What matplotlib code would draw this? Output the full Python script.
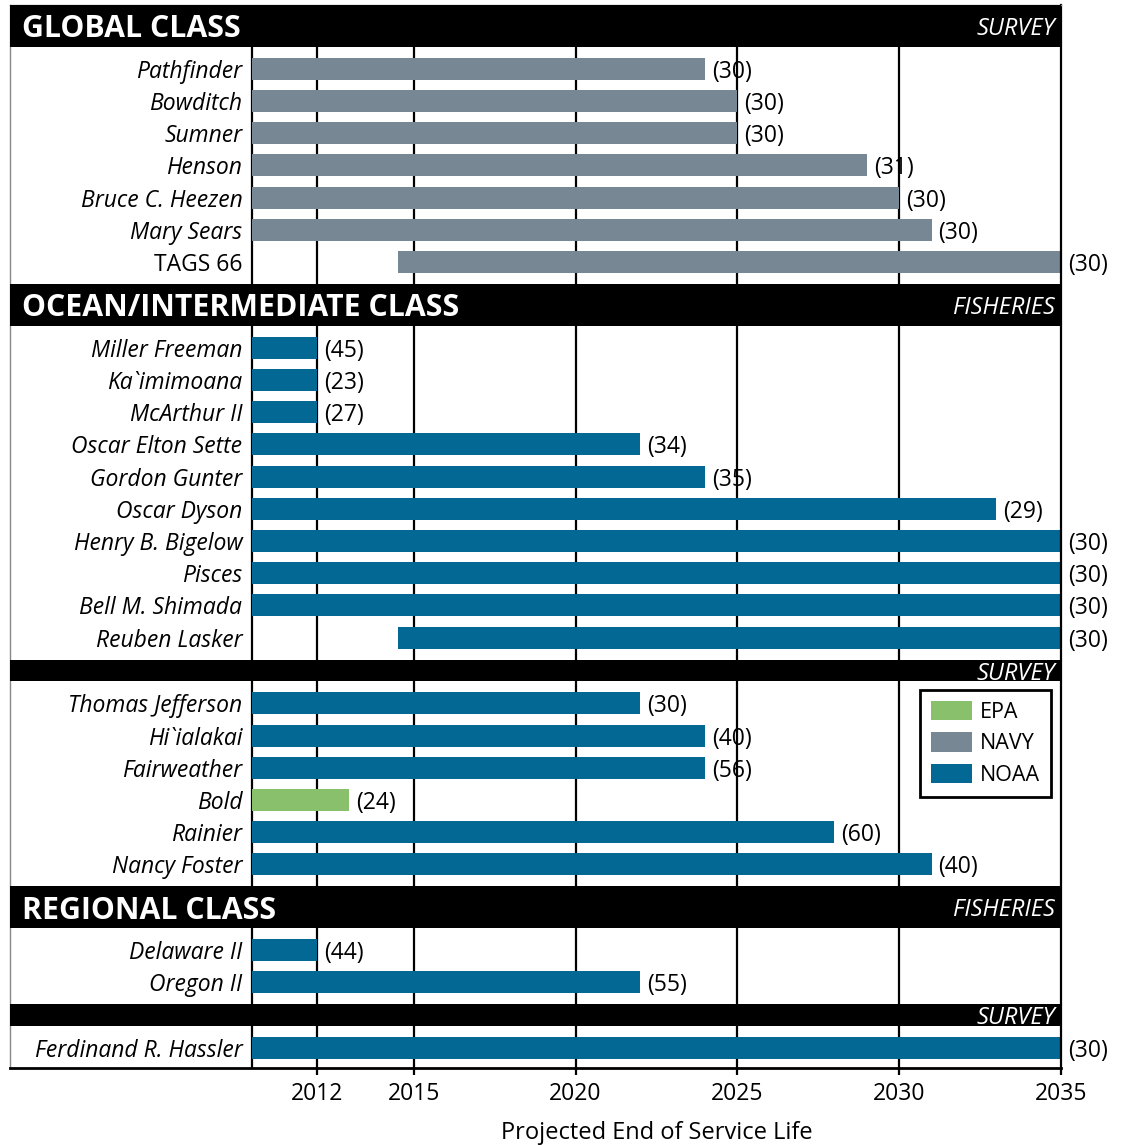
import matplotlib
matplotlib.use('Agg')
import matplotlib.pyplot as plt
from matplotlib.patches import Patch
import matplotlib.transforms as mtransforms

plt.rcParams['font.family'] = ['Open Sans', 'DejaVu Sans']

# ---- data ----
global_names = ['Pathfinder', 'Bowditch', 'Sumner', 'Henson', 'Bruce C. Heezen', 'Mary Sears', 'TAGS 66']
global_start = [2010, 2010, 2010, 2010, 2010, 2010, 2014.5]
global_end = [2024, 2025, 2025, 2029, 2030, 2031, 2035]
global_age = [30, 30, 30, 31, 30, 30, 30]
global_agency = ['NAVY'] * 7

ocean_fish_names = ['Miller Freeman', 'Ka`imimoana', 'McArthur II', 'Oscar Elton Sette', 'Gordon Gunter',
                    'Oscar Dyson', 'Henry B. Bigelow', 'Pisces', 'Bell M. Shimada', 'Reuben Lasker']
ocean_fish_start = [2010, 2010, 2010, 2010, 2010, 2010, 2010, 2010, 2010, 2014.5]
ocean_fish_end = [2012, 2012, 2012, 2022, 2024, 2033, 2035, 2035, 2035, 2035]
ocean_fish_age = [45, 23, 27, 34, 35, 29, 30, 30, 30, 30]
ocean_fish_agency = ['NOAA'] * 10

ocean_surv_names = ['Thomas Jefferson', 'Hi`ialakai', 'Fairweather', 'Bold', 'Rainier', 'Nancy Foster']
ocean_surv_start = [2010] * 6
ocean_surv_end = [2022, 2024, 2024, 2013, 2028, 2031]
ocean_surv_age = [30, 40, 56, 24, 60, 40]
ocean_surv_agency = ['NOAA', 'NOAA', 'NOAA', 'EPA', 'NOAA', 'NOAA']

reg_fish_names = ['Delaware II', 'Oregon II']
reg_fish_start = [2010, 2010]
reg_fish_end = [2012, 2022]
reg_fish_age = [44, 55]
reg_fish_agency = ['NOAA', 'NOAA']

reg_surv_names = ['Ferdinand R. Hassler']
reg_surv_start = [2010]
reg_surv_end = [2035]
reg_surv_age = [30]
reg_surv_agency = ['NOAA']

upright_names = ['TAGS 66']

tick_years = [2012, 2015, 2020, 2025, 2030, 2035]
colors = {'EPA': '#88c06b', 'NAVY': '#778894', 'NOAA': '#036893'}

sections = [
    ('GLOBAL CLASS', 'SURVEY', global_names, global_start, global_end, global_age, global_agency),
    ('OCEAN/INTERMEDIATE CLASS', 'FISHERIES', ocean_fish_names, ocean_fish_start, ocean_fish_end, ocean_fish_age, ocean_fish_agency),
    (None, 'SURVEY', ocean_surv_names, ocean_surv_start, ocean_surv_end, ocean_surv_age, ocean_surv_agency),
    ('REGIONAL CLASS', 'FISHERIES', reg_fish_names, reg_fish_start, reg_fish_end, reg_fish_age, reg_fish_agency),
    (None, 'SURVEY', reg_surv_names, reg_surv_start, reg_surv_end, reg_surv_age, reg_surv_agency),
]

# ---- layout (row units) ----
big_band = 1.30
small_band = 0.68
pad = 0.18
bar_h = 0.68
fs = 16.5

fig = plt.figure(figsize=(11.22, 11.45), dpi=100)
ax = fig.add_axes([10 / 1122, (1145 - 1068) / 1145, 1051 / 1122, 1063 / 1145])

blend = mtransforms.blended_transform_factory(ax.transAxes, ax.transData)

y = 0.0
for title, sub, names, starts, ends, ages, agencies in sections:
    band = big_band if title else small_band
    ax.axhspan(y, y + band, color='black', zorder=3, lw=0)
    if title:
        ax.text(0.0114, y + band / 2, title, transform=blend, color='white', fontsize=21.8,
                fontweight='bold', va='center_baseline', ha='left', zorder=4)
    ax.text(0.9943, y + band / 2, sub, transform=blend, color='white',
            fontsize=17, fontstyle='italic', va='center_baseline', ha='right', zorder=4)
    y += band + pad
    for n, s, e, a, ag in zip(names, starts, ends, ages, agencies):
        yc = y + 0.5
        ax.barh(yc, e - s, left=s, height=bar_h, color=colors[ag], zorder=2, lw=0)
        ax.annotate(f'({a})', (e, yc), xytext=(5, 0), textcoords='offset points',
                    fontsize=fs, va='center_baseline', ha='left', zorder=4, annotation_clip=False)
        ax.annotate(n, (2010, yc), xytext=(-7, 0), textcoords='offset points', fontsize=fs,
                    fontstyle='normal' if n in upright_names else 'italic',
                    va='center_baseline', ha='right', zorder=4)
        y += 1
    y += pad

total = 33.0
ax.set_ylim(total, 0)
ax.set_xlim(2002.52, 2035)

# grid lines and left edge of plotting region
ax.vlines([2010] + tick_years[:-1], 0, total, color='black', lw=1.6, zorder=1)

ax.set_xticks(tick_years)
ax.set_xticklabels([str(t) for t in tick_years], fontsize=fs)
ax.tick_params(axis='x', direction='out', length=5, width=1.6, pad=5)
ax.set_yticks([])
for side in ['left', 'top']:
    ax.spines[side].set_color('#888888')
    ax.spines[side].set_linewidth(1)
ax.spines['right'].set_linewidth(1.6)
ax.spines['bottom'].set_linewidth(2)

ax.text(2022.5, -0.05, 'Projected End of Service Life',
        transform=mtransforms.blended_transform_factory(ax.transData, ax.transAxes),
        ha='center', va='top', fontsize=17)

handles = [Patch(facecolor=colors[k], edgecolor='none', label=k) for k in ['EPA', 'NAVY', 'NOAA']]
leg = ax.legend(handles=handles, loc='upper right', bbox_to_anchor=(0.9905, 0.3556), borderaxespad=0,
                fontsize=15.5, frameon=True, fancybox=False, handlelength=1.9, handleheight=1.0,
                handletextpad=0.4, labelspacing=0.45, borderpad=0.5)
leg.get_frame().set_edgecolor('black')
leg.get_frame().set_linewidth(2)
leg.get_frame().set_alpha(1)
leg.set_zorder(5)

fig.savefig('out.png', dpi=100)
